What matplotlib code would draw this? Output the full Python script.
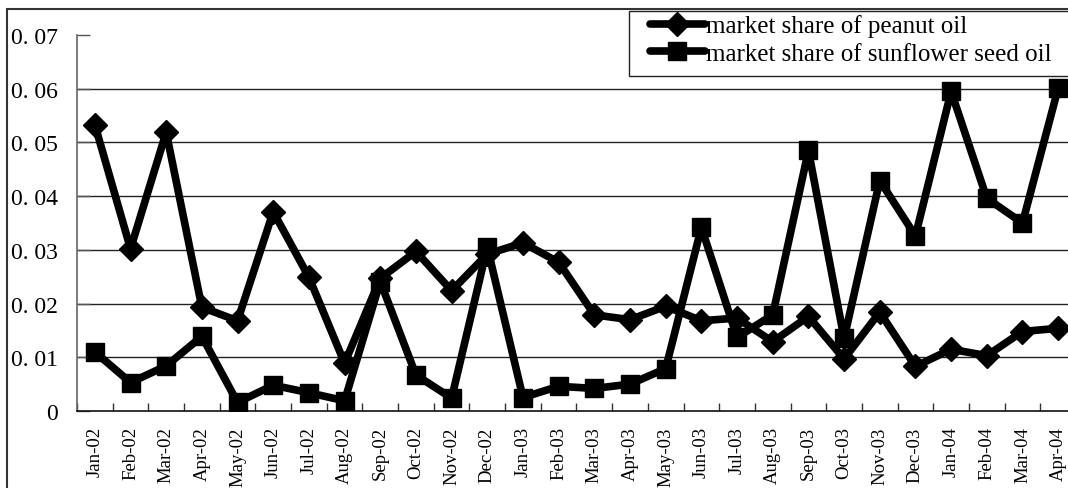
import matplotlib
matplotlib.use("Agg")
import matplotlib.pyplot as plt
from matplotlib.patches import Rectangle

months = ["Jan-02", "Feb-02", "Mar-02", "Apr-02", "May-02", "Jun-02", "Jul-02",
          "Aug-02", "Sep-02", "Oct-02", "Nov-02", "Dec-02", "Jan-03", "Feb-03",
          "Mar-03", "Apr-03", "May-03", "Jun-03", "Jul-03", "Aug-03", "Sep-03",
          "Oct-03", "Nov-03", "Dec-03", "Jan-04", "Feb-04", "Mar-04", "Apr-04"]

peanut = [0.0533, 0.0302, 0.0519, 0.0193, 0.0168, 0.0371, 0.0249, 0.0089,
          0.0247, 0.0297, 0.0224, 0.0292, 0.0313, 0.0277, 0.0179, 0.0170,
          0.0195, 0.0168, 0.0173, 0.0129, 0.0176, 0.0097, 0.0184, 0.0083,
          0.0115, 0.0103, 0.0148, 0.0154]

sunflower = [0.0110, 0.0053, 0.0084, 0.0139, 0.0016, 0.0048, 0.0034, 0.0019,
             0.0241, 0.0067, 0.0024, 0.0305, 0.0025, 0.0046, 0.0042, 0.0050,
             0.0079, 0.0342, 0.0137, 0.0179, 0.0485, 0.0135, 0.0429, 0.0326,
             0.0595, 0.0396, 0.0350, 0.0601]

ytick_vals = [0, 0.01, 0.02, 0.03, 0.04, 0.05, 0.06, 0.07]
ytick_labels = ["0", "0. 01", "0. 02", "0. 03", "0. 04", "0. 05", "0. 06", "0. 07"]

series_names = ["market share of peanut oil", "market share of sunflower seed oil"]

plt.rcParams['font.family'] = ['Liberation Serif', 'DejaVu Serif']

W, H = 1068, 489
fig = plt.figure(figsize=(W / 100, H / 100), dpi=100)
left = 77 / W
right = 1076 / W
bottom = (H - 412) / H
top = (H - 36) / H
ax = fig.add_axes([left, bottom, right - left, top - bottom])

x = list(range(len(months)))
style = dict(color='black', lw=5.5, solid_joinstyle='round', solid_capstyle='round')
l1, = ax.plot(x, peanut, marker='D', markersize=12.5, label=series_names[0],
              zorder=3, **style)
l2, = ax.plot(x, sunflower, marker='s', markersize=13.5, label=series_names[1],
              zorder=4, **style)

ax.set_xlim(-0.5, len(months) - 0.5)
ax.set_ylim(0, 0.07)
ax.set_yticks(ytick_vals)
ax.set_yticklabels(ytick_labels, fontsize=17)
ax.set_xticks(x)
ax.set_xticklabels(months, rotation=90, fontsize=13.5)
ax.set_xticks([i - 0.5 for i in range(len(months) + 1)], minor=True)
ax.tick_params(axis='x', which='major', length=0, pad=11)
ax.tick_params(axis='x', which='minor', direction='in', length=6, width=1, color='#333333')
ax.tick_params(axis='y', direction='in', length=9, width=1, color='#555555', pad=14)

ax.yaxis.grid(True, color='#222222', lw=1)
ax.set_axisbelow(True)
gl = ax.yaxis.get_gridlines()
gl[-1].set_visible(False)
gl[0].set_visible(False)

for s in ['top', 'right']:
    ax.spines[s].set_visible(False)
ax.spines['left'].set_color('#666666')
ax.spines['left'].set_linewidth(1.2)
ax.spines['bottom'].set_color('#111111')
ax.spines['bottom'].set_linewidth(1.2)

# outer chart border
fig.add_artist(Rectangle((7 / W, -0.05), 1.2, 1 - 10 / H + 0.05, transform=fig.transFigure,
                         fill=False, edgecolor='#333333', lw=1.5, zorder=0))
# legend frame
fig.add_artist(Rectangle((629 / W, 1 - 77 / H), 1.0, (77 - 12) / H, transform=fig.transFigure,
                         facecolor='white', edgecolor='#222222', lw=1, zorder=5))

leg = fig.legend(handles=[l1, l2], loc='upper left',
                 bbox_to_anchor=(647 / W, 1 - 13 / H), frameon=False,
                 fontsize=18, handlelength=2.2, handletextpad=0.05,
                 borderpad=0.1, labelspacing=0.2, borderaxespad=0)
leg.set_zorder(6)

fig.savefig("out.png", dpi=100)
